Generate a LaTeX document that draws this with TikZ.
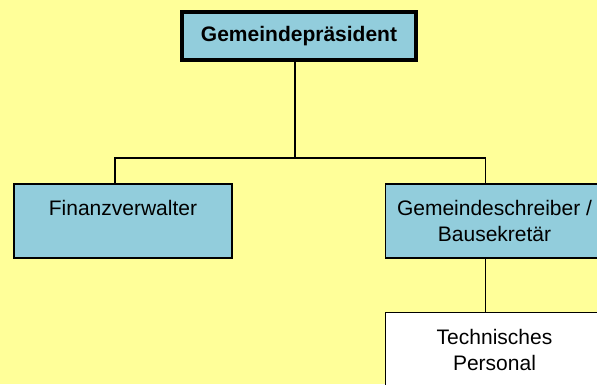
\documentclass[tikz,border=0pt]{standalone}
\usepackage{fontspec}
\setmainfont{Liberation Sans}
\usetikzlibrary{positioning}
\definecolor{bgyellow}{RGB}{255,255,153}
\definecolor{boxblue}{RGB}{146,205,220}

\begin{document}
\begin{tikzpicture}[x=1pt,y=1pt,
    unit/.style={draw=black, fill=boxblue, line width=1.5pt, minimum width=218pt, minimum height=74pt,
        align=center, font=\fontsize{21}{26}\selectfont},
    conn/.style={draw=black, line width=1.5pt}]
        \fill[bgyellow] (0,0) rectangle (597,384);
        \useasboundingbox (0,0) rectangle (597,384);
        \node[unit, line width=4pt, minimum width=234pt, minimum height=48pt, font=\fontsize{21}{26}\selectfont\bfseries] (pres) at (299,348) {Gemeindepräsident};
        \node[unit] (fin) at (123,163) {Finanzverwalter\\~};
        \node[unit, right=152pt of fin] (schr) {Gemeindeschreiber /\\Bausekretär};
        \node[unit, fill=white, below=53pt of schr] (tech) {Technisches\\Personal};
        \coordinate (split) at (295,226);
        % lines of the organigram
        \draw[conn] (pres.south -| split) -- (split);
        \draw[conn] ([xshift=-8pt]fin.north) |- (split) -| ([xshift=-9pt]schr.north);
        \draw[conn] ([xshift=-9pt]schr.south) -- ([xshift=-9pt]tech.north);
    \end{tikzpicture}
\end{document}
